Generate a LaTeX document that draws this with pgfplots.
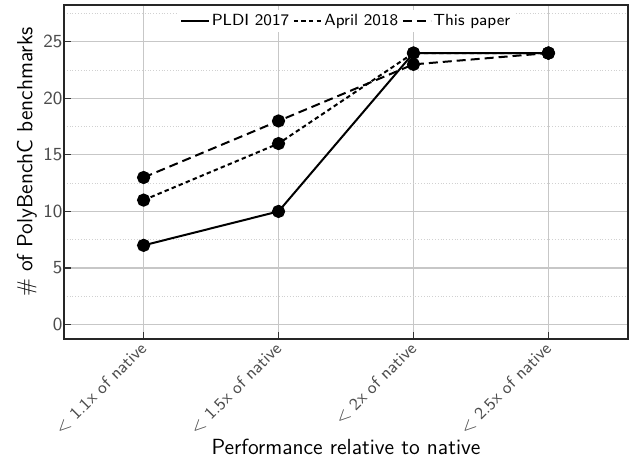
\documentclass[border=0pt]{standalone}
\usepackage{pgfplots}
\pgfplotsset{compat=1.18}
\renewcommand\familydefault{\sfdefault}
\begin{document}
\begin{tikzpicture}
\begin{axis}[
  scale only axis,
  width=282bp, height=167bp,
  xmin=-0.59, xmax=3.59,
  ymin=-1.28, ymax=28.25,
  xtick={0,1,2,3},
  xticklabels={{$<$ 1.1x of native},{$<$ 1.5x of native},{$<$ 2x of native},{$<$ 2.5x of native}},
  ytick={0,5,10,15,20,25},
  minor ytick={-2.5,2.5,7.5,12.5,17.5,22.5,27.5},
  /pgf/number format/assume math mode=true,
  tick align=inside,
  major tick length=3.5bp,
  minor tick length=0pt,
  tick style={black!80, line width=0.6bp},
  xtick pos=bottom, ytick pos=left,
  grid=both,
  major grid style={black!22, line width=0.6bp},
  minor grid style={black!18, densely dotted, line width=0.4bp},
  axis line style={black!85, line width=0.7bp},
  tick label style={text=black!70},
  xticklabel style={font=\fontsize{8.6}{10}\selectfont, yshift=-2.5bp, xshift=0.8bp, rotate=45, anchor=east, inner sep=1bp},
  yticklabel style={font=\fontsize{9.3}{11}\selectfont, inner sep=0.6bp},
  xlabel={Performance relative to native},
  ylabel={\# of PolyBenchC benchmarks},
  label style={font=\fontsize{11}{13}\selectfont},
  xlabel style={at={(axis description cs:0.5,-0.322)}, anchor=center},
  ylabel style={at={(axis description cs:-0.066,0.53)}, anchor=center},
  legend columns=3,
  legend style={at={(0.5,0.985)}, anchor=north, draw=none, fill=white,
    font=\fontsize{8.1}{10}\selectfont, inner sep=1bp,
    nodes={inner sep=0.8bp},
    /tikz/every even column/.append style={column sep=1bp}},
  legend cell align=left,
  legend image code/.code={\draw[#1, mark=none] (0bp,0bp) -- (14bp,0bp);},
  every axis plot/.append style={line width=1bp, black, mark=*, mark size=2.8bp, mark options={solid, fill=black}},
]
\addplot[solid] coordinates {(0,7) (1,10) (2,24) (3,24)};
\addplot[dash pattern=on 2.2bp off 1.6bp] coordinates {(0,11) (1,16) (2,24) (3,24)};
\addplot[dash pattern=on 4.5bp off 2.5bp] coordinates {(0,13) (1,18) (2,23) (3,24)};
\legend{PLDI 2017, April 2018, This paper}
\end{axis}
\pgfresetboundingbox
\path (-32bp,-60bp) rectangle (284bp,169.5bp);
\end{tikzpicture}
\end{document}
